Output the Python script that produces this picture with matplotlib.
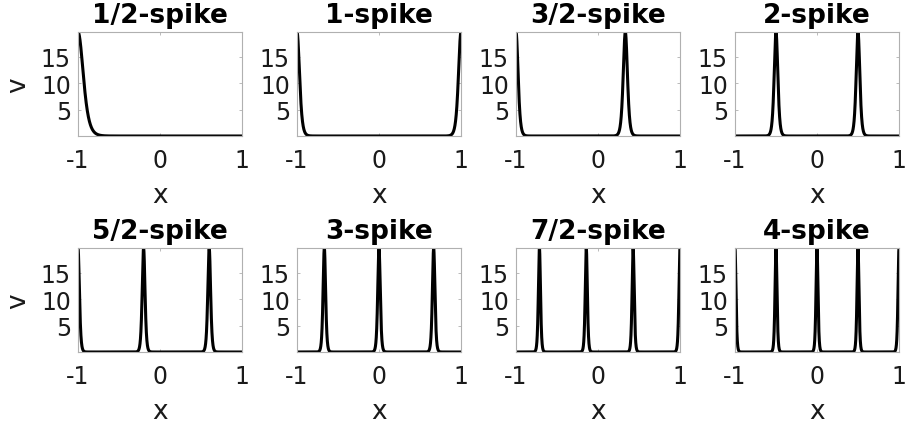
import numpy as np
import matplotlib
matplotlib.use("Agg")
import matplotlib.pyplot as plt

plt.rcParams['font.family'] = ['DejaVu Sans']

titles = ["1/2-spike", "1-spike", "3/2-spike", "2-spike",
          "5/2-spike", "3-spike", "7/2-spike", "4-spike"]

# spike centres on [-1, 1] for each steady state
centres = [
    [-1.0],
    [-1.0, 1.0],
    [-1.0, 1 / 3],
    [-0.5, 0.5],
    [-1.0, -0.2, 0.6],
    [-2 / 3, 0.0, 2 / 3],
    [-5 / 7, -1 / 7, 3 / 7, 1.0],
    [-1.0, -0.5, 0.0, 0.5, 1.0],
]
# half width at half maximum of each spike
half_widths = [0.075, 0.036, 0.03, 0.026, 0.02, 0.018, 0.015, 0.014]
peak = 19.7

xticks = [-1, 0, 1]
yticks = [5, 10, 15]

W, H = 905, 427
fig = plt.figure(figsize=(W / 100, H / 100), dpi=100)

lefts = [78, 297, 516, 735]
tops = [33, 249]
aw, ah = 164, 104

xs = np.linspace(-1, 1, 4001)
edge = '#b0b0b0'
txt = '#1a1a1a'

for k in range(8):
    r, c = divmod(k, 4)
    ax = fig.add_axes([lefts[c] / W, 1 - (tops[r] + ah) / H, aw / W, ah / H])
    s = half_widths[k] / np.arccosh(np.sqrt(2))
    v = np.zeros_like(xs)
    for x0 in centres[k]:
        v += peak / np.cosh((xs - x0) / s) ** 2
    ax.plot(xs, v, color='black', lw=2.2, solid_capstyle='butt')
    ax.set_xlim(-1, 1)
    ax.set_ylim(0, peak)
    ax.set_xticks(xticks)
    ax.set_xticklabels([str(t) for t in xticks])
    ax.set_yticks(yticks)
    if c == 0:
        ax.set_ylabel('v', fontsize=19, color=txt, labelpad=7)
    ax.set_xlabel('x', fontsize=19, color=txt, labelpad=7)
    ax.set_title(titles[k], fontsize=19, fontweight='bold', pad=7)
    ax.tick_params(direction='in', length=2.5, width=0.6, color=edge,
                   labelsize=17, labelcolor=txt, top=True, right=True)
    ax.tick_params(axis='x', pad=9)
    ax.tick_params(axis='y', pad=5)
    for sp in ax.spines.values():
        sp.set_color(edge)
        sp.set_linewidth(0.8)

fig.savefig('out.png', dpi=100)
